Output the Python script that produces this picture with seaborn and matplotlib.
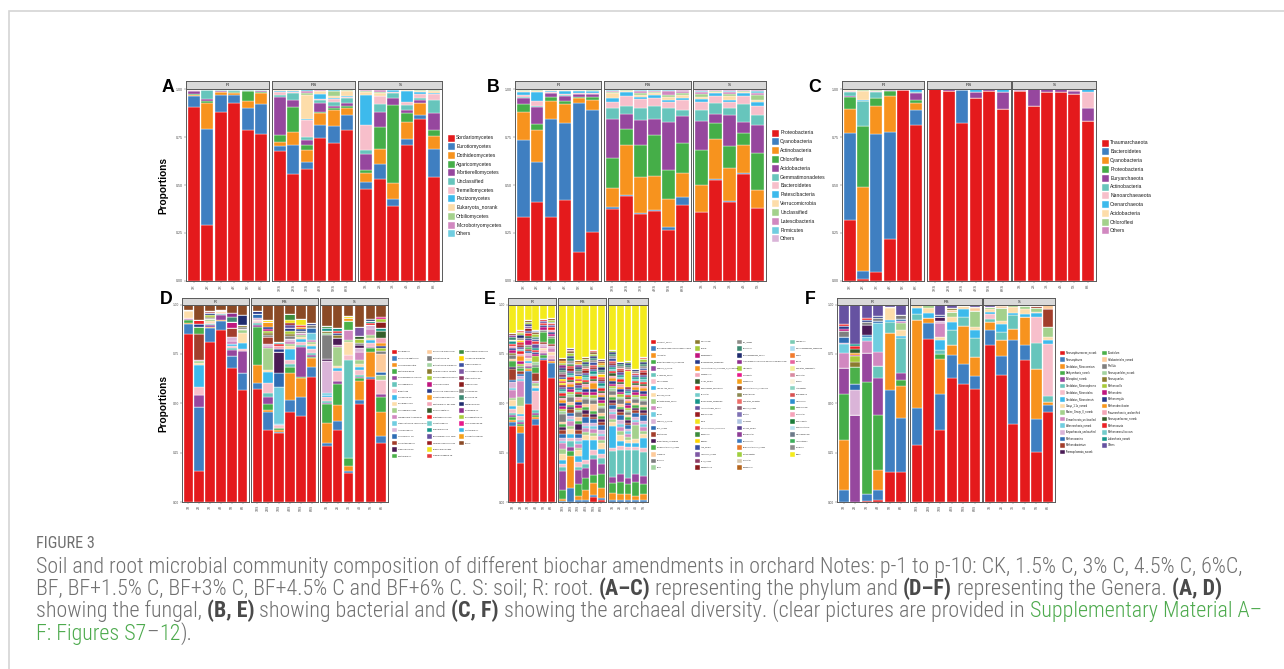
import numpy as np
import pandas as pd
import matplotlib
matplotlib.use("Agg")
import matplotlib.pyplot as plt
from matplotlib.patches import Rectangle
import seaborn as sns

# ---------------------------------------------------------------- samples
R_SAMPLES = ["1R", "2R", "3R", "4R", "5R", "6R"]
RS_SAMPLES = ["1RS", "2RS", "3RS", "4RS", "5RS", "6RS"]
S_SAMPLES = ["1S", "2S", "3S", "4S", "5S", "6S"]
S5_SAMPLES = ["1S", "2S", "3S", "4S", "5S"]
GROUPS_6 = [("R", R_SAMPLES), ("RS", RS_SAMPLES), ("S", S_SAMPLES)]
GROUPS_5 = [("R", R_SAMPLES), ("RS", RS_SAMPLES), ("S", S5_SAMPLES)]

BASE_COLORS = ["#E41A1C", "#3F7FC1", "#F7931E", "#45AE48", "#96479E", "#67C5BC",
               "#F7BFCB", "#3DBAEC", "#FDDDAA", "#A4D18C", "#D188C0", "#70CDE0",
               "#DAB4D8"]

# ---------------------------------------------------------------- A: fungal classes
A_TAXA = ["Sordariomycetes", "Eurotiomycetes", "Dothideomycetes", "Agaricomycetes",
          "Mortierellomycetes", "Unclassified", "Tremellomycetes", "Pezizomycetes",
          "Eukaryota_norank", "Orbiliomycetes", "Microbotryomycetes", "Others"]
A_VALUES = {
    "Sordariomycetes":    [.907, .291, .881, .925, .789, .768, .675, .558, .585, .747, .721, .789, .480, .532, .391, .710, .845, .541],
    "Eurotiomycetes":     [.056, .501, .091, .045, .115, .157, .030, .151, .036, .068, .085, .075, .038, .079, .037, .032, .017, .148],
    "Dothideomycetes":    [.006, .133, .012, .011, .038, .056, .018, .069, .063, .061, .084, .037, .044, .077, .082, .087, .063, .068],
    "Agaricomycetes":     [.003, .014, .003, .002, .051, .007, .038, .128, .026, .005, .009, .010, .017, .115, .408, .047, .004, .028],
    "Mortierellomycetes": [.014, .010, .003, .003, .002, .002, .199, .036, .026, .047, .012, .014, .084, .077, .037, .016, .012, .088],
    "Unclassified":       [.004, .044, .005, .007, .003, .006, .010, .035, .014, .014, .021, .026, .021, .043, .026, .026, .014, .068],
    "Tremellomycetes":    [.002, .002, .001, .001, .001, .001, .012, .007, .088, .007, .017, .005, .128, .040, .002, .014, .020, .035],
    "Pezizomycetes":      [.001, .001, .001, .001, .001, .001, .006, .003, .007, .025, .006, .005, .155, .002, .012, .056, .010, .003],
    "Eukaryota_norank":   [.002, .001, .001, .001, .001, .001, .006, .006, .122, .014, .010, .031, .019, .012, .002, .005, .006, .013],
    "Orbiliomycetes":     [.001, .001, .001, .001, .001, .001, .002, .003, .010, .004, .022, .002, .004, .006, .001, .002, .003, .003],
    "Microbotryomycetes": [.001, .001, .001, .001, .001, .001, .002, .002, .014, .004, .005, .002, .004, .010, .001, .002, .003, .002],
    "Others":             [.002, .001, .001, .002, .001, .002, .002, .002, .009, .004, .008, .004, .006, .007, .001, .003, .003, .003],
}

# ---------------------------------------------------------------- B: bacterial phyla
B_TAXA = ["Proteobacteria", "Cyanobacteria", "Actinobacteria", "Chloroflexi",
          "Acidobacteria", "Gemmatimonadetes", "Bacteroidetes", "Patescibacteria",
          "Verrucomicrobia", "Unclassified", "Latescibacteria", "Firmicutes", "Others"]
B_VALUES = {
    "Proteobacteria":   [.332, .410, .332, .424, .152, .255, .375, .442, .351, .365, .264, .398, .358, .529, .414, .557, .379],
    "Cyanobacteria":    [.401, .211, .511, .398, .776, .635, .009, .005, .003, .003, .017, .038, .003, .002, .003, .003, .003],
    "Actinobacteria":   [.145, .164, .094, .101, .023, .054, .101, .262, .189, .178, .147, .128, .140, .211, .171, .149, .094],
    "Chloroflexi":      [.043, .032, .021, .014, .009, .012, .157, .085, .166, .217, .151, .153, .181, .080, .115, .064, .192],
    "Acidobacteria":    [.034, .091, .021, .028, .012, .016, .204, .075, .130, .080, .250, .140, .152, .051, .161, .056, .145],
    "Gemmatimonadetes": [.005, .004, .003, .003, .004, .003, .055, .044, .060, .068, .072, .035, .056, .057, .037, .091, .053],
    "Bacteroidetes":    [.010, .025, .004, .007, .004, .006, .029, .052, .049, .040, .033, .052, .040, .035, .033, .042, .043],
    "Patescibacteria":  [.016, .049, .007, .015, .012, .008, .025, .018, .010, .016, .011, .011, .018, .014, .011, .017, .025],
    "Verrucomicrobia":  [.004, .006, .002, .003, .002, .003, .022, .006, .012, .010, .015, .014, .012, .006, .020, .006, .010],
    "Unclassified":     [.003, .003, .002, .002, .002, .002, .008, .004, .010, .008, .010, .008, .015, .005, .010, .005, .025],
    "Latescibacteria":  [.002, .002, .001, .002, .001, .002, .005, .003, .008, .006, .018, .010, .008, .004, .008, .004, .012],
    "Firmicutes":       [.002, .002, .001, .001, .001, .002, .004, .002, .005, .004, .005, .005, .006, .003, .008, .003, .008],
    "Others":           [.003, .001, .002, .002, .002, .002, .006, .002, .007, .005, .007, .008, .011, .004, .009, .003, .011],
}

# ---------------------------------------------------------------- C: archaeal phyla
C_TAXA = ["Thaumarchaeota", "Bacteroidetes", "Cyanobacteria", "Proteobacteria",
          "Euryarchaeota", "Actinobacteria", "Nanoarchaeaeota", "Crenarchaeota",
          "Acidobacteria", "Chloroflexi", "Others"]
C_VALUES = {
    "Thaumarchaeota":  [.318, .009, .047, .221, .997, .814, .998, .990, .821, .951, .990, .896, .990, .910, .983, .983, .972, .835],
    "Bacteroidetes":   [.452, .043, .718, .556, 0, .078, 0, 0, .176, 0, 0, 0, 0, 0, 0, 0, 0, 0],
    "Cyanobacteria":   [.126, .440, .148, .188, 0, .033, 0, 0, 0, 0, 0, 0, 0, 0, 0, 0, 0, 0],
    "Proteobacteria":  [.062, .313, .040, .026, 0, .016, 0, 0, 0, 0, 0, 0, 0, 0, 0, 0, 0, 0],
    "Euryarchaeota":   [.004, .002, .002, .002, .001, .038, .001, .010, .003, .032, .008, .090, .004, .090, .017, .017, .018, .064],
    "Actinobacteria":  [.023, .130, .031, .002, 0, .004, 0, 0, 0, 0, 0, 0, 0, 0, 0, 0, 0, 0],
    "Nanoarchaeaeota": [.004, .003, .002, .001, 0, .003, 0, 0, 0, 0, 0, 0, 0, 0, 0, 0, .010, .084],
    "Crenarchaeota":   [.002, .002, .001, .001, 0, .012, 0, 0, 0, .017, .002, .014, .006, 0, 0, 0, 0, .017],
    "Acidobacteria":   [.003, .050, .002, .001, 0, 0, 0, 0, 0, 0, 0, 0, 0, 0, 0, 0, 0, 0],
    "Chloroflexi":     [.002, .004, .006, .001, 0, 0, 0, 0, 0, 0, 0, 0, 0, 0, 0, 0, 0, 0],
    "Others":          [.004, .004, .003, .001, .002, .002, .001, 0, 0, 0, 0, 0, 0, 0, 0, 0, 0, 0],
}

# ---------------------------------------------------------------- D: fungal genera
D_TAXA = ["Fusarium sp.", "Penicillium gaditanum", "Humicola fuscoatra", "Mortierella alpina",
          "Neocosmospora rubicola", "Trichoderma sp.", "Unidentified", "Aspergillus sp.",
          "Fusarium solani", "Trichoderma virens", "Lasiodiplodia theobromae",
          "Staphylotrichum coccosporum", "Acremonium sp.", "Humicola sp. LH",
          "Schizothecium sp.", "Cladorrhinum sp.", "Mortierella sp.",
          "Penicillium brasilianum", "Botryotrichum sp.", "Botryotrichum piluliferum",
          "Phialemoniopsis curvata", "Scopulariopsis brevicaulis", "Sordaria fimicola",
          "Penicillium simplicissimum", "Chaetomium globosum", "Mortierella sp. ML-2003",
          "Pyrenochaeta sp.", "Plectosphaerella sp.", "Chaetomium sp.", "Zopfiella marina",
          "Byssochlamys sp. 1006", "Talaromyces pinophilus", "Emericella nidulans",
          "Cladophialophora sp.",
          "Gibellulopsis nigrescens", "Aspergillus fumigatus", "Cladosporium sp.",
          "Chrysosporium sp.", "Stachybotrys sp.", "Gibberella sp.", "Conocybe sp.",
          "Exophiala sp.", "Metarhizium sp.", "Podospora sp.", "Pseudeurotium sp.",
          "Solicoccozyma sp.", "Saitozyma sp.", "Cephalotrichum sp.", "Others"]
D_COLORS = ["#E41A1C", "#3F7FC1", "#F7931E", "#45AE48", "#96479E", "#67C5BC", "#F7BFCB",
            "#3DBAEC", "#FDDDAA", "#A4D18C", "#D188C0", "#70CDE0", "#DAB4D8", "#2E6DB4",
            "#A23E2C", "#4A1B55", "#4BB04A",
            "#FDCB9B", "#7F7F7F", "#A3D3A1", "#8B7B2F", "#A8CB3A", "#C0157F", "#283A8A",
            "#F8981D", "#F4A6B8", "#355E2B", "#EC2227", "#73CCCB", "#16958A", "#6652A1",
            "#9B1C20", "#F2E41E", "#E53B3F",
            "#3D8C3C", "#FFD500", "#3B4FA0", "#7F58A5", "#8E3B63", "#8A1B1B", "#8E8C88",
            "#3E8A73", "#1F2B6E", "#8E2E8E", "#A9CE3E", "#E8198B", "#3AB5E8", "#F5A11B",
            "#8B4A26"]
# one dict per bar: legend index -> proportion
D_BARS = [
    {0: .850, 1: .049, 2: .005, 3: .017, 4: .005, 6: .005, 8: .034, 10: .005, 48: .030},
    {0: .155, 1: .328, 4: .059, 6: .042, 7: .110, 8: .010, 9: .008, 10: .005, 14: .133, 16: .034, 23: .015, 27: .020, 48: .081},
    {0: .823, 1: .073, 2: .005, 4: .012, 5: .005, 6: .006, 8: .008, 9: .010, 18: .008, 20: .006, 21: .006, 23: .010, 31: .006, 32: .008, 48: .032},
    {0: .870, 1: .046, 2: .003, 4: .030, 5: .004, 6: .005, 8: .008, 23: .004, 48: .030},
    {0: .677, 1: .062, 4: .030, 5: .010, 6: .010, 7: .012, 10: .015, 12: .020, 14: .047, 22: .030, 41: .025, 43: .020, 48: .042},
    {0: .567, 1: .085, 4: .115, 6: .010, 7: .030, 8: .050, 9: .012, 10: .008, 18: .010, 20: .010, 42: .050, 48: .053},
    {0: .571, 1: .030, 2: .093, 3: .193, 4: .010, 5: .008, 6: .010, 8: .008, 12: .010, 13: .020, 23: .012, 48: .035},
    {0: .365, 1: .090, 2: .010, 3: .032, 4: .037, 5: .020, 6: .047, 7: .059, 8: .010, 9: .110, 10: .010, 12: .010, 14: .035, 18: .010, 20: .010, 21: .010, 22: .010, 23: .010, 24: .025, 35: .010, 48: .080},
    {0: .348, 1: .006, 2: .010, 3: .012, 6: .012, 7: .006, 11: .190, 13: .068, 15: .110, 23: .015, 25: .012, 27: .010, 28: .010, 48: .191},
    {0: .458, 1: .059, 2: .135, 3: .030, 5: .015, 6: .020, 7: .059, 8: .012, 9: .010, 10: .015, 12: .012, 18: .015, 20: .010, 21: .015, 23: .015, 30: .015, 31: .010, 32: .015, 34: .030, 48: .050},
    {0: .433, 1: .101, 2: .092, 3: .008, 4: .152, 5: .010, 6: .012, 7: .015, 8: .012, 9: .012, 10: .010, 18: .010, 23: .010, 24: .010, 27: .010, 32: .030, 48: .073},
    {0: .635, 1: .050, 2: .042, 3: .008, 4: .010, 5: .008, 6: .020, 7: .015, 8: .012, 9: .010, 10: .012, 11: .035, 13: .025, 18: .012, 23: .012, 48: .094},
    {0: .281, 1: .017, 2: .101, 3: .093, 4: .008, 5: .010, 6: .017, 7: .010, 11: .012, 12: .160, 15: .012, 18: .118, 19: .010, 20: .010, 29: .015, 34: .010, 48: .110},
    {0: .365, 1: .047, 2: .080, 3: .106, 4: .017, 6: .050, 7: .015, 8: .010, 9: .095, 10: .010, 15: .035, 20: .015, 23: .010, 27: .012, 29: .012, 48: .121},
    {0: .146, 1: .009, 2: .025, 3: .042, 5: .497, 6: .025, 8: .067, 9: .010, 10: .050, 16: .045, 24: .015, 32: .010, 48: .059},
    {0: .492, 1: .020, 2: .097, 3: .012, 4: .008, 5: .010, 6: .025, 7: .015, 8: .015, 9: .020, 10: .040, 12: .020, 15: .015, 18: .010, 21: .020, 26: .015, 37: .045, 48: .111},
    {0: .621, 1: .010, 2: .130, 3: .017, 4: .008, 6: .020, 7: .012, 8: .012, 9: .015, 10: .030, 12: .020, 27: .010, 29: .012, 42: .010, 48: .073},
    {0: .298, 1: .034, 2: .126, 3: .076, 4: .015, 6: .068, 9: .025, 13: .017, 17: .092, 18: .015, 21: .015, 23: .010, 24: .015, 25: .025, 26: .034, 29: .015, 39: .030, 44: .015, 45: .010, 48: .065},
]

# ---------------------------------------------------------------- E: bacterial genera
E_TAXA = ["Chloroplast_norank", "Burkholderia-Caballeronia-Paraburkholderia", "Acidibacter",
          "Gemmatimonadaceae_unclassified", "Subgroup_6_norank", "KF-JG30-B3_norank",
          "Sphingomonas", "JG30-KF-AS9_norank", "Gaiellales_norank", "Blastocatellaceae_norank",
          "Gaiella", "Bacillus", "Subgroup_2_norank", "RB41_norank", "Streptomyces",
          "Gemmataceae_unclassified", "Vicinamibacteraceae_norank", "Haliangium", "Nitrospira",
          "MND1",
          "Sphingobium", "Massilia", "Rhodanobacter", "Micropepsaceae_unclassified",
          "Acidobacteriaceae_(Subgroup_1)_unclassified", "Pseudomonas", "SC-I-84_norank",
          "Roseiflexaceae_unclassified", "Bryobacter", "Microscillaceae_unclassified",
          "Acidobacteriales_norank", "Bradyrhizobium", "Dyella", "Chitinophagaceae_unclassified",
          "Granulicella", "Ellin6067", "A4b_norank", "IMCC26256_norank", "67-14_norank",
          "Mycobacterium",
          "Pir4_lineage", "Nitrosospira", "Nitrosomonadaceae_norank",
          "Allorhizobium-Neorhizobium-Pararhizobium-Rhizobium", "Luteolibacter", "Chujaibacter",
          "Pseudolabrys", "Xanthobacteraceae_unclassified", "Gemmatimonas",
          "Candidatus_Solibacter", "SBR1031_norank", "Opitutus", "Terrimonas", "TRA3-20_norank",
          "Steroidobacter", "Flavisolibacter", "Ktedonobacteraceae_norank", "Pajaroellobacter",
          "Lysobacter", "Rhodoplanes",
          "Nocardioides", "Sphingomonadaceae_unclassified", "Dongia", "Bauldia",
          "Candidatus_Udaeobacter", "Ramlibacter", "Devosia", "Arthrobacter", "Mesorhizobium",
          "Lechevalieria", "Pedomicrobium", "Caulobacter", "Roseisolibacter",
          "Phenylobacterium", "Noviherbaspirillum", "Amycolatopsis", "Reyranella", "Others"]
E_COLORS = (BASE_COLORS[:13] + ["#2E6DB4", "#A23E2C", "#4A1B55", "#4BB04A", "#FDCB9B",
                                 "#7F7F7F", "#A3D3A1"]
            + ["#8B7B2F", "#A8CB3A", "#C0157F", "#283A8A", "#F8981D", "#F4A6B8", "#355E2B",
               "#EC2227", "#73CCCB", "#16958A", "#6652A1", "#9B1C20", "#F2E41E", "#E53B3F",
               "#3D8C3C", "#FFD500", "#3B4FA0", "#7F58A5", "#8E3B63", "#8A1B1B"]
            + ["#8E8C88", "#3E8A73", "#1F2B6E", "#8E2E8E", "#A9CE3E", "#E8198B", "#F5A11B",
               "#8B4A26", "#8C8A52", "#EE6F6A", "#8A5A6E", "#7F72B5", "#AFC4E2", "#5A3F8F",
               "#8E3D97", "#3D78BD", "#E8782A", "#9FCF3E", "#D6C8B0", "#B5651D"]
            + ["#7ACBB4", "#AEDDEF", "#F27B2D", "#E8649E", "#F4EE9B", "#D88AA0", "#FBF3DC",
               "#8DD3C0", "#D75353", "#2D8ECE", "#5BB451", "#F5A3B9", "#1A7C3A", "#B9E2F1",
               "#6C7A89", "#3EAE5A", "#8C8C8C", "#F4EB1C"])
E_BARS = [
    {0: .392, 1: .020, 2: .010, 3: .015, 4: .012, 5: .010, 6: .020, 7: .015, 8: .030, 9: .012, 10: .040, 11: .012, 12: .030, 13: .010, 14: .055, 15: .012, 16: .030, 17: .010, 18: .020, 20: .010, 22: .015, 23: .012, 25: .010, 27: .012, 29: .012, 32: .008, 41: .015, 43: .010, 47: .012, 77: .145},
    {0: .199, 1: .150, 2: .034, 3: .010, 4: .012, 5: .010, 6: .020, 7: .010, 8: .040, 9: .045, 10: .080, 11: .012, 12: .015, 13: .010, 14: .012, 16: .015, 18: .010, 21: .012, 22: .015, 24: .025, 25: .010, 27: .015, 28: .010, 30: .012, 31: .010, 33: .012, 35: .012, 40: .010, 42: .012, 44: .010, 46: .008, 49: .010, 77: .128},
    {0: .497, 1: .166, 2: .010, 3: .008, 4: .010, 6: .015, 7: .010, 8: .012, 10: .015, 12: .010, 13: .010, 14: .012, 16: .010, 18: .010, 22: .025, 23: .012, 26: .010, 27: .015, 30: .010, 31: .014, 37: .012, 42: .010, 44: .008, 47: .012, 77: .077},
    {0: .390, 1: .030, 2: .012, 3: .010, 4: .010, 5: .012, 6: .100, 7: .012, 8: .012, 9: .015, 10: .012, 14: .040, 16: .030, 18: .010, 19: .012, 21: .030, 22: .012, 23: .010, 27: .012, 29: .010, 30: .020, 33: .012, 36: .012, 41: .010, 44: .015, 47: .012, 52: .008, 77: .130},
    {0: .719, 1: .010, 3: .012, 4: .010, 6: .015, 8: .012, 10: .010, 12: .010, 14: .010, 16: .050, 18: .010, 22: .015, 23: .010, 27: .010, 30: .012, 33: .010, 77: .073},
    {0: .629, 1: .076, 2: .010, 4: .010, 6: .020, 8: .015, 10: .020, 12: .010, 14: .012, 16: .030, 18: .010, 22: .010, 23: .010, 25: .010, 27: .012, 30: .010, 33: .010, 41: .008, 44: .010, 47: .010, 77: .068},
    {1: .005, 2: .010, 3: .045, 4: .097, 5: .020, 6: .015, 7: .020, 8: .030, 9: .025, 10: .030, 11: .012, 12: .015, 13: .020, 14: .020, 15: .015, 16: .015, 17: .012, 18: .040, 19: .012, 21: .010, 22: .020, 23: .015, 24: .012, 25: .010, 26: .010, 27: .015, 28: .010, 29: .012, 30: .012, 31: .010, 32: .008, 33: .010, 35: .012, 36: .010, 38: .012, 40: .012, 41: .012, 42: .010, 43: .012, 44: .012, 46: .010, 47: .012, 77: .273},
    {1: .070, 2: .165, 3: .025, 4: .020, 5: .030, 6: .015, 7: .020, 8: .025, 9: .015, 10: .025, 11: .012, 12: .012, 13: .015, 14: .020, 15: .012, 16: .012, 17: .015, 18: .025, 19: .012, 21: .012, 22: .015, 23: .012, 24: .012, 25: .012, 26: .010, 27: .015, 28: .012, 29: .010, 30: .010, 31: .012, 33: .010, 34: .010, 36: .010, 40: .010, 41: .012, 42: .012, 44: .012, 47: .010, 49: .008, 53: .008, 77: .222},
    {1: .010, 2: .020, 3: .060, 4: .070, 5: .015, 6: .025, 7: .030, 8: .030, 9: .015, 10: .020, 11: .015, 12: .015, 13: .020, 14: .020, 15: .030, 16: .012, 17: .020, 18: .025, 19: .010, 21: .015, 22: .012, 23: .015, 24: .012, 25: .012, 26: .015, 27: .012, 28: .010, 29: .012, 30: .012, 31: .012, 32: .010, 33: .012, 35: .012, 36: .012, 40: .012, 41: .010, 42: .012, 43: .010, 44: .008, 46: .008, 47: .010, 77: .280},
    {1: .010, 2: .050, 3: .060, 4: .050, 5: .020, 6: .020, 7: .100, 8: .025, 9: .015, 10: .020, 11: .012, 12: .015, 13: .030, 14: .015, 15: .020, 16: .012, 17: .015, 18: .025, 19: .012, 21: .012, 22: .015, 23: .012, 24: .012, 25: .012, 26: .012, 27: .012, 28: .012, 29: .010, 30: .012, 31: .012, 33: .010, 40: .012, 41: .012, 42: .010, 44: .012, 47: .010, 77: .264},
    {0: .025, 1: .012, 2: .060, 3: .040, 4: .080, 5: .020, 6: .025, 7: .050, 8: .020, 9: .015, 10: .020, 11: .012, 12: .015, 13: .020, 14: .015, 15: .015, 16: .012, 17: .035, 18: .020, 19: .012, 21: .012, 22: .015, 23: .015, 24: .030, 25: .012, 26: .012, 27: .012, 28: .012, 29: .012, 30: .012, 31: .012, 33: .010, 36: .012, 40: .010, 41: .010, 42: .010, 44: .010, 47: .010, 49: .010, 77: .230},
    {0: .008, 1: .010, 2: .050, 3: .070, 4: .050, 5: .030, 6: .020, 7: .025, 8: .030, 9: .015, 10: .020, 11: .015, 12: .020, 13: .025, 14: .015, 15: .015, 16: .012, 17: .015, 18: .025, 19: .012, 21: .015, 22: .012, 23: .015, 24: .012, 25: .012, 26: .010, 27: .012, 28: .012, 29: .012, 30: .012, 31: .012, 33: .010, 35: .012, 40: .010, 41: .012, 42: .012, 44: .012, 46: .010, 47: .010, 53: .010, 77: .273},
    {1: .010, 2: .035, 3: .050, 4: .030, 5: .130, 6: .015, 7: .110, 8: .020, 9: .015, 10: .025, 11: .012, 12: .015, 13: .020, 14: .012, 15: .015, 16: .012, 17: .012, 18: .020, 19: .012, 21: .012, 22: .012, 23: .015, 24: .012, 25: .012, 26: .012, 27: .010, 28: .012, 29: .012, 30: .010, 31: .010, 33: .010, 36: .012, 40: .010, 41: .010, 42: .010, 44: .010, 77: .230},
    {1: .010, 2: .030, 3: .060, 4: .040, 5: .120, 6: .020, 7: .030, 8: .030, 9: .020, 10: .020, 11: .012, 12: .020, 13: .025, 14: .015, 15: .015, 16: .012, 17: .015, 18: .025, 19: .012, 21: .012, 22: .012, 23: .015, 24: .012, 25: .012, 26: .012, 27: .012, 28: .012, 29: .012, 30: .012, 31: .010, 33: .010, 40: .010, 41: .010, 42: .012, 77: .290},
    {1: .010, 2: .030, 3: .050, 4: .030, 5: .140, 6: .015, 7: .020, 8: .015, 9: .015, 10: .015, 11: .012, 12: .012, 13: .020, 14: .012, 15: .015, 16: .012, 17: .012, 18: .015, 19: .010, 21: .010, 22: .012, 23: .012, 24: .012, 25: .010, 26: .010, 27: .010, 28: .010, 29: .010, 30: .010, 31: .010, 32: .080, 33: .010, 40: .010, 41: .010, 42: .010, 44: .010, 77: .280},
    {1: .010, 2: .020, 3: .070, 4: .040, 5: .120, 6: .015, 7: .020, 8: .020, 9: .070, 10: .015, 11: .012, 12: .015, 13: .020, 14: .012, 15: .012, 16: .012, 17: .012, 18: .020, 19: .010, 21: .012, 22: .012, 23: .012, 24: .012, 25: .010, 26: .010, 27: .010, 28: .010, 29: .010, 30: .010, 33: .010, 40: .010, 42: .010, 77: .324},
    {1: .012, 2: .030, 3: .050, 4: .040, 5: .120, 6: .020, 7: .050, 8: .020, 9: .015, 10: .020, 11: .012, 12: .015, 13: .030, 14: .012, 15: .015, 16: .012, 17: .012, 18: .020, 19: .012, 21: .012, 22: .012, 23: .015, 24: .012, 25: .012, 26: .012, 27: .010, 28: .012, 29: .012, 30: .010, 31: .012, 33: .010, 36: .012, 40: .010, 41: .012, 42: .010, 44: .012, 49: .010, 77: .264},
]

# ---------------------------------------------------------------- F: archaeal genera
F_TAXA = ["Nitrososphaeraceae_norank", "Nitrososphaera", "Candidatus_Nitrocosmicus",
          "Bathyarchaeia_norank", "Chloroplast_norank", "Candidatus_Nitrososphaera",
          "Candidatus_Nitrosotalea", "Candidatus_Nitrosotenuis", "Group_1.1c_norank",
          "Marine_Group_II_norank", "Crenarchaeota_unclassified", "Woesearchaeia_norank",
          "Euryarchaeota_unclassified", "Methanosarcina", "Methanobacterium",
          "Thermoplasmata_norank",
          "Clostridium", "Halobacteriales_norank", "Pirellula", "Nitrosopumilales_norank",
          "Nitrosopumilus", "Methanocella", "Methanothrix", "Methanoregula",
          "Methanobrevibacter", "Thaumarchaeota_unclassified", "Nitrosopumilaceae_norank",
          "Methanosaeta", "Methanomassiliicoccus", "Lokiarchaeia_norank", "Others"]
F_COLORS = (BASE_COLORS[:13] + ["#2E6DB4", "#A23E2C", "#4A1B55"]
            + ["#4BB04A", "#FDCB9B", "#7F7F7F", "#A3D3A1", "#8B7B2F", "#A8CB3A", "#C0157F",
               "#283A8A", "#F8981D", "#F4A6B8", "#355E2B", "#EC2227", "#73CCCB", "#16958A",
               "#6652A1"])
F_BARS = [
    {0: .002, 1: .057, 2: .253, 3: .237, 4: .132, 10: .071, 11: .050, 12: .005, 13: .026, 18: .035, 22: .010, 23: .012, 27: .010, 30: .100},
    {4: .440, 12: .126, 13: .034, 16: .084, 20: .025, 21: .029, 22: .008, 24: .010, 26: .017, 27: .017, 29: .010, 30: .200},
    {0: .005, 1: .037, 3: .566, 4: .147, 10: .061, 11: .017, 13: .012, 15: .050, 18: .015, 23: .010, 27: .010, 30: .070},
    {0: .008, 1: .054, 2: .098, 3: .279, 4: .191, 5: .057, 10: .073, 11: .144, 13: .010, 18: .020, 23: .010, 30: .056},
    {0: .152, 1: .414, 2: .290, 5: .056, 7: .008, 8: .061, 9: .005, 30: .014},
    {0: .152, 1: .275, 2: .159, 3: .031, 4: .034, 5: .177, 7: .010, 8: .034, 9: .034, 10: .008, 13: .015, 18: .020, 30: .051},
    {0: .287, 1: .191, 2: .446, 5: .030, 7: .029, 8: .012, 9: .005},
    {0: .823, 1: .081, 2: .030, 7: .025, 8: .025, 9: .012, 30: .004},
    {0: .367, 1: .182, 2: .177, 3: .022, 5: .024, 7: .047, 8: .017, 10: .068, 12: .010, 15: .025, 23: .010, 30: .051},
    {0: .630, 1: .113, 2: .051, 5: .079, 7: .039, 8: .025, 9: .025, 17: .012, 20: .008, 30: .018},
    {0: .596, 1: .102, 2: .192, 5: .047, 7: .042, 8: .012, 20: .009},
    {0: .574, 1: .063, 2: .098, 5: .093, 7: .042, 8: .017, 9: .081, 17: .012, 18: .008, 30: .012},
    {0: .794, 1: .076, 2: .042, 5: .017, 6: .025, 7: .008, 8: .017, 9: .008, 30: .013},
    {0: .642, 1: .096, 2: .081, 5: .042, 7: .042, 8: .012, 9: .068, 17: .007, 20: .005, 30: .005},
    {0: .397, 1: .422, 2: .059, 5: .068, 7: .013, 8: .029, 9: .012},
    {0: .718, 1: .076, 2: .143, 7: .017, 8: .022, 9: .014, 17: .005, 30: .005},
    {0: .253, 1: .169, 2: .249, 5: .132, 6: .135, 7: .017, 8: .008, 9: .017, 14: .012, 30: .008},
    {0: .456, 1: .034, 2: .017, 5: .028, 6: .267, 7: .017, 8: .017, 9: .051, 14: .088, 17: .022, 30: .003},
]

CAPTION_TITLE = "FIGURE 3"
CAPTION_LINES = [
    [("Soil and root microbial community composition of different biochar amendments in orchard Notes: p-1 to p-10: CK, 1.5% C, 3% C, 4.5% C, 6%C,", "n")],
    [("BF, BF+1.5% C, BF+3% C, BF+4.5% C and BF+6% C. S: soil; R: root. ", "n"), ("(A\u2013C)", "b"),
     (" representing the phylum and ", "n"), ("(D\u2013F)", "b"), (" representing the Genera. ", "n"), ("(A, D)", "b")],
    [("showing the fungal, ", "n"), ("(B, E)", "b"), (" showing bacterial and ", "n"), ("(C, F)", "b"),
     (" showing the archaeal diversity. (clear pictures are provided in ", "n"), ("Supplementary Material A\u2013", "g")],
    [("F: Figures S7", "g"), ("\u2013", "n"), ("12", "g"), (").", "n")],
]

# ---------------------------------------------------------------- figure setup
W, H = 1284, 669
sns.set_theme(style="white")
plt.rcParams["font.family"] = ["Liberation Sans", "DejaVu Sans"]
fig = plt.figure(figsize=(W / 100, H / 100), dpi=100)
fig.patch.set_facecolor("white")


def fx(x):
    return x / W


def fy(y):
    return 1 - y / H


def axes_px(x0, y0, x1, y1):
    return fig.add_axes([fx(x0), fy(y1), (x1 - x0) / W, (y1 - y0) / H])


def matrix_from_columns(taxa, values):
    return np.array([values[t] for t in taxa], dtype=float).T


def matrix_from_bars(taxa, bars):
    m = np.zeros((len(bars), len(taxa)))
    for b, comp in enumerate(bars):
        for i, v in comp.items():
            m[b, i] = v
    return m


EDGE = "#5a5a5a"


def draw_panel(taxa, colors, groups, matrix, facets_px, strip_y, bottom_y, tick_fs, strip_fs):
    matrix = matrix / matrix.sum(axis=1, keepdims=True)
    palette = dict(zip(taxa, colors))
    start = 0
    for gi, ((gname, samples), (x0, x1)) in enumerate(zip(groups, facets_px)):
        n = len(samples)
        block = matrix[start:start + n]
        start += n
        df = pd.DataFrame({
            "sample": np.repeat(samples, len(taxa)),
            "taxon": np.tile(taxa, n),
            "prop": block.ravel(),
        })
        ax = axes_px(x0, strip_y[1], x1, bottom_y)
        # seaborn stacks the first hue level on top, so feed the legend order reversed
        sns.histplot(data=df, x="sample", weights="prop", hue="taxon",
                     hue_order=taxa[::-1], palette=palette, multiple="stack",
                     discrete=True, shrink=0.9, alpha=1, edgecolor="white",
                     linewidth=0.25, legend=False, ax=ax)
        ax.set_xlim(-0.6, n - 0.4)
        ax.set_ylim(0, 1)
        ax.set_xlabel("")
        ax.set_ylabel("")
        ax.set_xticks(range(n))
        ax.set_xticklabels(samples, rotation=90, fontsize=tick_fs, color="#4d4d4d")
        ax.tick_params(axis="x", bottom=True, length=1.2, width=0.3, pad=1, color="#4d4d4d")
        if gi == 0:
            ax.set_yticks([0, .25, .5, .75, 1])
            ax.set_yticklabels(["0.00", "0.25", "0.50", "0.75", "1.00"], fontsize=tick_fs,
                               color="#4d4d4d")
            ax.tick_params(axis="y", left=True, length=1.2, width=0.3, pad=1, color="#4d4d4d")
        else:
            ax.set_yticks([])
        for sp in ax.spines.values():
            sp.set_color(EDGE)
            sp.set_linewidth(0.7)
            sp.set_visible(True)
        sax = axes_px(x0, strip_y[0], x1, strip_y[1])
        sax.set_facecolor("#D9D9D9")
        sax.set_xticks([])
        sax.set_yticks([])
        for sp in sax.spines.values():
            sp.set_color(EDGE)
            sp.set_linewidth(0.7)
            sp.set_visible(True)
        sax.text(0.5, 0.45, gname, ha="center", va="center", fontsize=strip_fs,
                 color="#1a1a1a", transform=sax.transAxes)


def draw_legend(cols_x, rows, y0, step, key, names, colors, fs):
    i = 0
    for cx, nrow in zip(cols_x, rows):
        for r in range(nrow):
            y = y0 + r * step
            fig.add_artist(Rectangle((fx(cx), fy(y + key / 2)), key / W, key / H,
                                     transform=fig.transFigure, facecolor=colors[i],
                                     edgecolor="white", linewidth=0.3))
            fig.text(fx(cx + key + 1.2), fy(y), names[i], fontsize=fs, va="center",
                     ha="left", color="#1a1a1a")
            i += 1


# ---------------------------------------------------------------- outer frame
fig.add_artist(Rectangle((fx(9), fy(700)), (1300 - 9) / W, (700 - 11) / H,
                         transform=fig.transFigure, facecolor="none",
                         edgecolor="#D4D4D4", linewidth=1.2))

TOP_STRIP = (80.5, 89)
BOT_STRIP = (298.5, 304.5)

# panel A
draw_panel(A_TAXA, BASE_COLORS[:11] + ["#70CDE0"], GROUPS_6, matrix_from_columns(A_TAXA, A_VALUES),
           [(186, 269), (272, 355), (358, 442)], TOP_STRIP, 281, 2.6, 3.2)
draw_legend([448], [12], 138, 8.7, 7, A_TAXA, BASE_COLORS[:11] + ["#70CDE0"], 3.6)
# panel B
draw_panel(B_TAXA, BASE_COLORS, GROUPS_5, matrix_from_columns(B_TAXA, B_VALUES),
           [(515, 601), (604, 691), (693, 766)], TOP_STRIP, 281, 2.6, 3.2)
draw_legend([772], [13], 133, 8.83, 7, B_TAXA, BASE_COLORS, 3.6)
# panel C
draw_panel(C_TAXA, BASE_COLORS[:10] + ["#D188C0"], GROUPS_6, matrix_from_columns(C_TAXA, C_VALUES),
           [(842, 924), (927, 1011), (1012, 1096)], TOP_STRIP, 281, 2.6, 3.2)
draw_legend([1102], [11], 143, 8.8, 7, C_TAXA, BASE_COLORS[:10] + ["#D188C0"], 3.6)
# panel D
draw_panel(D_TAXA, D_COLORS, GROUPS_6, matrix_from_bars(D_TAXA, D_BARS),
           [(182, 249), (251, 318), (320, 388)], BOT_STRIP, 502, 2.3, 2.8)
draw_legend([392, 427, 459], [17, 17, 15], 352, 6.5, 4.6, D_TAXA, D_COLORS, 1.55)
# panel E
draw_panel(E_TAXA, E_COLORS, GROUPS_5, matrix_from_bars(E_TAXA, E_BARS),
           [(508, 556), (558, 606), (608, 648)], BOT_STRIP, 502, 2.3, 2.8)
draw_legend([651, 695, 737, 790], [20, 20, 20, 18], 342, 6.6, 4.6, E_TAXA, E_COLORS, 1.3)
# panel F
draw_panel(F_TAXA, F_COLORS, GROUPS_6, matrix_from_bars(F_TAXA, F_BARS),
           [(837, 908), (910, 982), (983, 1055)], BOT_STRIP, 502, 2.3, 2.8)
draw_legend([1060, 1102], [16, 15], 353, 6.6, 4.6, F_TAXA, F_COLORS, 1.8)

# panel letters and axis titles
for letter, (lx, ly) in {"A": (168, 87), "B": (493, 87), "C": (815, 87),
                         "D": (166, 300), "E": (490, 300), "F": (810, 300)}.items():
    fig.text(fx(lx), fy(ly), letter, fontsize=12.8, fontweight="bold", ha="center",
             va="center", color="black")
for ly in (185, 403):
    fig.text(fx(163), fy(ly), "Proportions", rotation=90, fontsize=7.3, fontweight="bold",
             ha="center", va="center", color="black")

# ---------------------------------------------------------------- caption
CAP_FAMILY = ["Roboto Condensed", "Liberation Sans Narrow", "Roboto", "DejaVu Sans"]
CAP_GRAY = "#707070"
CAP_DARK = "#4a4a4a"
CAP_GREEN = "#4DAA4D"
CAP_X0 = 36
LINE_ENDS = [1262, 1236, 1253]

renderer = fig.canvas.get_renderer()
sizes = []
for segments, x_end in zip(CAPTION_LINES[:3], LINE_ENDS):
    probe = fig.text(0, 0, "".join(s for s, _ in segments), fontsize=10, family=CAP_FAMILY,
                     fontweight="light")
    sizes.append(10 * (x_end - CAP_X0) / probe.get_window_extent(renderer).width)
    probe.remove()
cap_fs = min(sizes)

cap_ax = fig.add_axes([0, 0, 1, 1])
cap_ax.set_facecolor("none")
cap_ax.axis("off")
cap_ax.set_zorder(-1)

cap_ax.text(fx(CAP_X0), fy(548), CAPTION_TITLE, transform=fig.transFigure, fontsize=cap_fs * 0.74,
            family=CAP_FAMILY, color=CAP_GRAY, va="baseline", ha="left")

STYLE = {"n": dict(color=CAP_GRAY, fontweight="light"),
         "b": dict(color=CAP_DARK, fontweight="bold"),
         "g": dict(color=CAP_GREEN, fontweight="light")}
for li, segments in enumerate(CAPTION_LINES):
    base_y = 573 + li * 22.2
    prev = None
    for text, style in segments:
        kw = dict(fontsize=cap_fs, family=CAP_FAMILY, **STYLE[style])
        if prev is None:
            prev = cap_ax.text(fx(CAP_X0), fy(base_y), text, transform=fig.transFigure,
                               va="baseline", ha="left", **kw)
        else:
            prev = cap_ax.annotate(text, xy=(1, 0), xycoords=prev, va="bottom", ha="left", **kw)

fig.savefig("out.png", dpi=100, facecolor="white")
